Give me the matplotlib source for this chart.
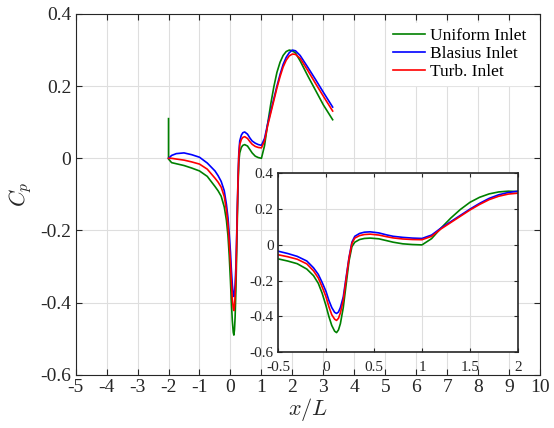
import matplotlib
matplotlib.use("Agg")
import matplotlib.pyplot as plt

plt.rcParams["font.family"] = ["Liberation Serif", "DejaVu Serif"]
plt.rcParams["mathtext.fontset"] = "cm"

# x/L stations shared by all three runs
x = [-2.0, -1.9, -1.75, -1.5, -1.25, -1.0, -0.75, -0.5, -0.4, -0.3, -0.2,
     -0.13, -0.08, -0.04, 0.0, 0.03, 0.06, 0.09, 0.11, 0.13, 0.15, 0.18,
     0.21, 0.24, 0.27, 0.3, 0.35, 0.4, 0.46, 0.55, 0.63, 0.7, 0.8, 0.9, 1.0,
     1.1, 1.2, 1.3, 1.4, 1.5, 1.6, 1.7, 1.8, 1.9, 2.0, 2.1, 2.25, 2.5, 2.75,
     3.0, 3.3]

cp_blasius = [0.0, 0.008, 0.013, 0.015, 0.01, 0.003, -0.013, -0.035, -0.048,
              -0.064, -0.09, -0.128, -0.165, -0.21, -0.26, -0.31, -0.35,
              -0.377, -0.383, -0.375, -0.35, -0.29, -0.18, -0.07, 0.015, 0.048,
              0.064, 0.071, 0.073, 0.067, 0.056, 0.048, 0.042, 0.038, 0.036,
              0.055, 0.095, 0.13, 0.165, 0.2, 0.232, 0.26, 0.28, 0.293, 0.3,
              0.298, 0.285, 0.252, 0.218, 0.183, 0.142]

cp_turb = [0.0, 0.0, -0.002, -0.005, -0.01, -0.016, -0.03, -0.055, -0.066,
           -0.08, -0.106, -0.145, -0.185, -0.235, -0.29, -0.345, -0.39, -0.415,
           -0.422, -0.41, -0.38, -0.31, -0.19, -0.075, 0.008, 0.038, 0.052,
           0.058, 0.06, 0.055, 0.046, 0.039, 0.033, 0.03, 0.029, 0.048, 0.09,
           0.125, 0.16, 0.195, 0.226, 0.253, 0.272, 0.284, 0.289, 0.288, 0.277,
           0.243, 0.207, 0.172, 0.131]

# uniform inlet has a spike at the first station
x_uniform = [-2.0] + x
cp_uniform = [0.11, -0.002, -0.012, -0.015, -0.02, -0.027, -0.035, -0.05,
              -0.078, -0.09, -0.105, -0.135, -0.172, -0.215, -0.27, -0.34,
              -0.4, -0.45, -0.482, -0.49, -0.475, -0.44, -0.35, -0.22, -0.09,
              -0.01, 0.015, 0.03, 0.036, 0.038, 0.034, 0.024, 0.015, 0.006,
              0.002, 0.0, 0.035, 0.095, 0.15, 0.198, 0.238, 0.266, 0.285,
              0.296, 0.3, 0.298, 0.292, 0.27, 0.228, 0.188, 0.148, 0.107]

labels = ["Uniform Inlet", "Blasius Inlet", "Turb. Inlet"]
colors = ["#008000", "#0000ff", "#ff0000"]
axcol = "#262626"


def draw(ax, lw):
    ax.plot(x_uniform, cp_uniform, color=colors[0], lw=lw, label=labels[0])
    ax.plot(x, cp_blasius, color=colors[1], lw=lw, label=labels[1])
    ax.plot(x, cp_turb, color=colors[2], lw=lw, label=labels[2])
    ax.grid(True, color="#dedede", lw=0.8)
    ax.set_axisbelow(True)
    ax.tick_params(direction="in", top=True, right=True, colors=axcol)
    for s in ax.spines.values():
        s.set_color(axcol)


fig = plt.figure(figsize=(5.54, 4.28), dpi=100)
ax = fig.add_axes([0.1365, 0.1243, 0.8385, 0.843])
draw(ax, 1.2)
ax.set_xlim(-5, 10)
ax.set_ylim(-0.6, 0.4)
ax.set_xticks(range(-5, 11))
ax.set_yticks([-0.6, -0.4, -0.2, 0, 0.2, 0.4])
ax.set_yticklabels(["-0.6", "-0.4", "-0.2", "0", "0.2", "0.4"])
ax.set_xticklabels([str(v) for v in range(-5, 11)])
ax.tick_params(labelsize=14, length=4, pad=3)
ax.set_xlabel("$x/L$", fontsize=16, labelpad=0, color=axcol)
ax.set_ylabel("$C_p$", fontsize=16, labelpad=5, color=axcol)
leg = ax.legend(loc="upper right", fontsize=12.5, frameon=True,
                edgecolor="white", framealpha=1, fancybox=False,
                handlelength=1.8, handletextpad=0.3, borderaxespad=0.5,
                labelspacing=0.1, borderpad=0.3)

ins = fig.add_axes([0.5018, 0.1769, 0.4332, 0.4182])
draw(ins, 1.2)
ins.set_xlim(-0.5, 2)
ins.set_ylim(-0.6, 0.4)
ins.set_xticks([-0.5, 0, 0.5, 1, 1.5, 2])
ins.set_xticklabels(["-0.5", "0", "0.5", "1", "1.5", "2"])
ins.set_yticks([-0.6, -0.4, -0.2, 0, 0.2, 0.4])
ins.set_yticklabels(["-0.6", "-0.4", "-0.2", "0", "0.2", "0.4"])
ins.tick_params(labelsize=11, length=3)
ins.tick_params(axis="x", pad=6)
ins.tick_params(axis="y", pad=3)
for s in ins.spines.values():
    s.set_linewidth(1.2)

fig.savefig("out.png", dpi=100)
